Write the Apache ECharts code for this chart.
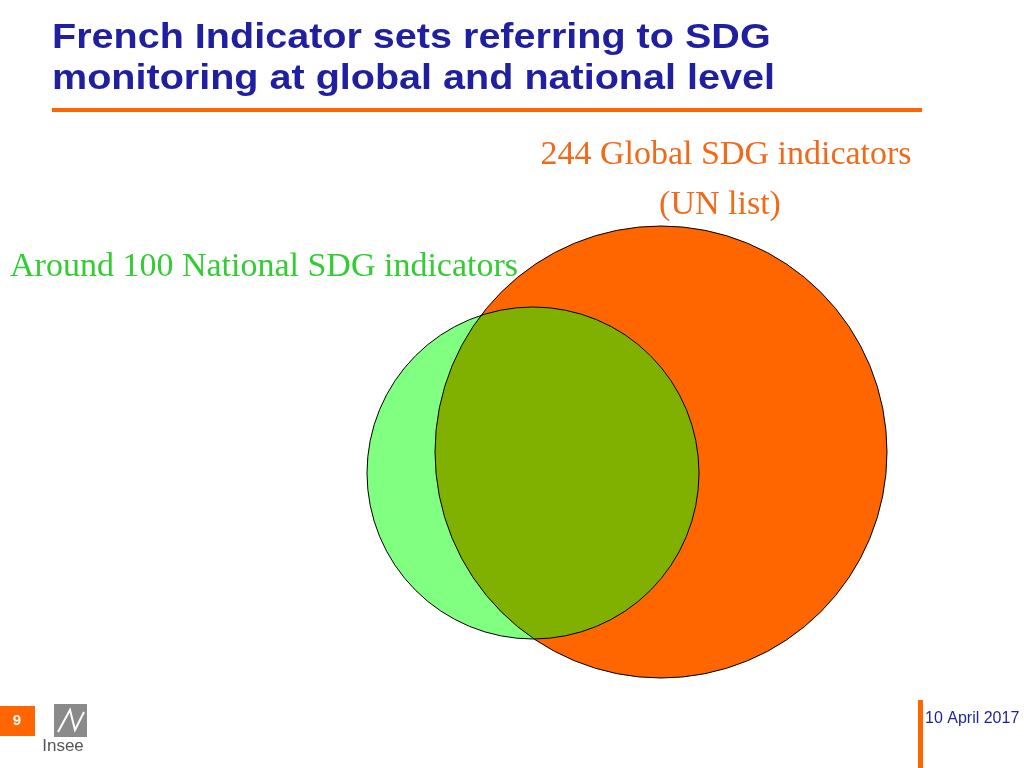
<!DOCTYPE html>
<html><head><meta charset="utf-8">
<script src="https://cdn.jsdelivr.net/npm/echarts@6/dist/echarts.min.js"></script>
<style>html,body{margin:0;padding:0;background:#fff}#c{width:1024px;height:768px}</style>
</head><body><div id="c"></div>
<script>
const setNames = ['Global SDG indicators', 'National SDG indicators'];
const setCounts = [244, 100];
const setColors = ['#FF6600', '#80FF80'];
const overlapColor = '#80B000';
// circle geometry in slide units: [cx, cy, r]
const circles = [[661, 452, 226], [533, 473, 166]];

const chart = echarts.init(document.getElementById('c'));
function lensPath(api) {
  const [a, b] = circles.map(c => { const p = api.coord([c[0], c[1]]); return [p[0], p[1], api.size([c[2], 0])[0]]; });
  const dx = b[0]-a[0], dy = b[1]-a[1], d = Math.hypot(dx, dy);
  const l = (a[2]*a[2] - b[2]*b[2] + d*d) / (2*d);
  const h = Math.sqrt(a[2]*a[2] - l*l);
  const mx = a[0] + l*dx/d, my = a[1] + l*dy/d;
  let p1 = [mx + h*dy/d, my - h*dx/d], p2 = [mx - h*dy/d, my + h*dx/d];
  if (p1[1] > p2[1]) { const t = p1; p1 = p2; p2 = t; }
  // is small circle's centre on the far side of the chord (toward the big circle)?
  const cross = (p2[0]-p1[0])*(b[1]-p1[1]) - (p2[1]-p1[1])*(b[0]-p1[0]);
  const large = cross < 0 ? 1 : 0;
  return `M${p1[0]} ${p1[1]} A${b[2]} ${b[2]} 0 ${large} 1 ${p2[0]} ${p2[1]} A${a[2]} ${a[2]} 0 0 1 ${p1[0]} ${p1[1]}Z`;
}
chart.setOption({
  animation: false,
  grid: {left: 0, right: 0, top: 0, bottom: 0},
  xAxis: {type: 'value', min: 0, max: 1024, show: false},
  yAxis: {type: 'value', min: 0, max: 768, inverse: true, show: false},
  series: [{
    type: 'custom', coordinateSystem: 'cartesian2d',
    data: [0],
    renderItem: (params, api) => {
      const el = circles.map((c, i) => { const p = api.coord([c[0], c[1]]); return {cx: p[0], cy: p[1], r: api.size([c[2], 0])[0], color: setColors[i]}; });
      const children = el.map(e => ({type: 'circle', shape: {cx: e.cx, cy: e.cy, r: e.r}, style: {fill: e.color}}));
      children.push({type: 'path', shape: {pathData: lensPath(api)}, style: {fill: overlapColor}});
      el.forEach(e => children.push({type: 'circle', shape: {cx: e.cx, cy: e.cy, r: e.r}, style: {fill: null, stroke: '#000', lineWidth: 1}}));
      return {type: 'group', children};
    }
  }],
  graphic: [
    {type: 'text', x: 52, y: 18, scaleX: 1.13, style: {text: 'French Indicator sets referring to SDG\nmonitoring at global and national level', font: 'bold 35px "Liberation Sans", Arial', fill: '#1F1FA0', lineHeight: 41}},
    {type: 'rect', shape: {x: 52, y: 108, width: 870, height: 4}, style: {fill: '#FF6600'}},
    {type: 'text', x: 726, y: 155, style: {text: setCounts[0] + ' ' + setNames[0], font: '34px "Liberation Serif", serif', fill: '#F06A1A', textAlign: 'center', textVerticalAlign: 'middle'}},
    {type: 'text', x: 720, y: 205, style: {text: '(UN list)', font: '34px "Liberation Serif", serif', fill: '#F06A1A', textAlign: 'center', textVerticalAlign: 'middle'}},
    {type: 'text', x: 10, y: 267, style: {text: 'Around ' + setCounts[1] + ' ' + setNames[1], font: '34px "Liberation Serif", serif', fill: '#33CC33', textVerticalAlign: 'middle'}},
    {type: 'rect', shape: {x: 0, y: 706, width: 35, height: 30}, style: {fill: '#FF6600'}},
    {type: 'text', x: 17, y: 721, style: {text: '9', font: 'bold 15px "Liberation Sans"', fill: '#fff', textAlign: 'center', textVerticalAlign: 'middle'}},
    {type: 'rect', shape: {x: 54, y: 704, width: 33, height: 33}, style: {fill: '#8A8A8A'}},
    {type: 'polyline', shape: {points: [[58, 732], [70, 710], [75, 730], [84, 712]]}, style: {stroke: '#fff', lineWidth: 2, fill: null}},
    {type: 'text', x: 63, y: 746, style: {text: 'Insee', font: '17px "Liberation Sans"', fill: '#555', textAlign: 'center', textVerticalAlign: 'middle'}},
    {type: 'rect', shape: {x: 918, y: 700, width: 5, height: 68}, style: {fill: '#FF6600'}},
    {type: 'text', x: 925, y: 719, style: {text: '10 April 2017', font: '16px "Liberation Sans"', fill: '#1F1FA0', textVerticalAlign: 'middle'}}
  ]
});
</script></body></html>
